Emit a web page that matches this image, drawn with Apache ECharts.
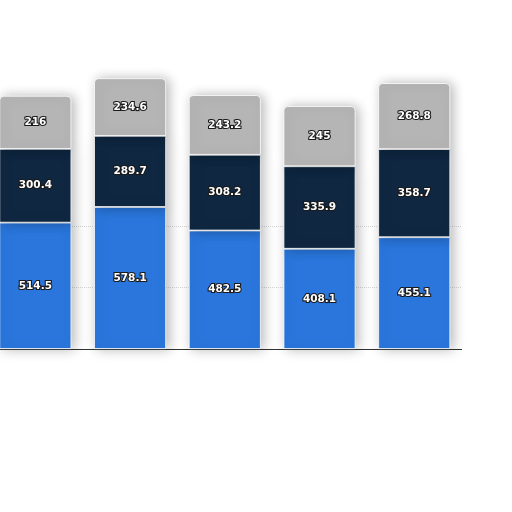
<!DOCTYPE html>
<html><head><meta charset="utf-8">
<script src="https://cdn.jsdelivr.net/npm/echarts@6/dist/echarts.min.js"></script>
<style>html,body{margin:0;padding:0;background:#fff;overflow:hidden;}#c{position:absolute;left:-12px;top:0;width:524px;height:512px;}</style>
</head><body><div id="c"></div>
<script>
var categories = ['A', 'B', 'C', 'D', 'E'];
var seriesBottom = [514.5, 578.1, 482.5, 408.1, 455.1];
var seriesMiddle = [300.4, 289.7, 308.2, 335.9, 358.7];
var seriesTop = [216, 234.6, 243.2, 245, 268.8];
var yTicks = [0, 250, 500, 750, 1000, 1250];

var chart = echarts.init(document.getElementById('c'), null, {renderer: 'canvas'});
var label = {
  show: true, position: 'inside', color: '#fff', fontSize: 10.5, fontWeight: 'bold',
  fontFamily: 'DejaVu Sans', textBorderColor: '#1a1a1a', textBorderWidth: 2.2
};
function mk(name, data, color, radius) {
  return {
    name: name, type: 'bar', stack: 'total', data: data, barWidth: 72,
    label: label,
    itemStyle: {
      color: color, borderColor: '#fff', borderWidth: 0.8, borderRadius: radius,
      shadowBlur: 12, shadowColor: 'rgba(0,0,0,0.28)', shadowOffsetX: 3, shadowOffsetY: 0
    }
  };
}
var none = 'rgba(0,0,0,0)';
chart.setOption({
  animation: false,
  backgroundColor: '#fff',
  grid: {left: 0, right: 50.4, top: 42, bottom: 163},
  xAxis: {
    type: 'category', data: categories,
    axisLine: {lineStyle: {color: '#333', width: 1}},
    axisTick: {show: false}, axisLabel: {show: false}
  },
  yAxis: {
    type: 'value', min: yTicks[0], max: yTicks[yTicks.length - 1], interval: 250,
    axisLine: {show: false}, axisTick: {show: false}, axisLabel: {show: false},
    splitLine: {lineStyle: {color: [none, '#d6d6d6', '#d6d6d6', none, none, none], type: 'dotted'}}
  },
  series: [
    mk('bottom', seriesBottom, '#2a76dc', 0),
    mk('middle', seriesMiddle, '#0f2741', 0),
    mk('top', seriesTop, '#b5b5b5', [4, 4, 0, 0])
  ]
});
</script></body></html>
